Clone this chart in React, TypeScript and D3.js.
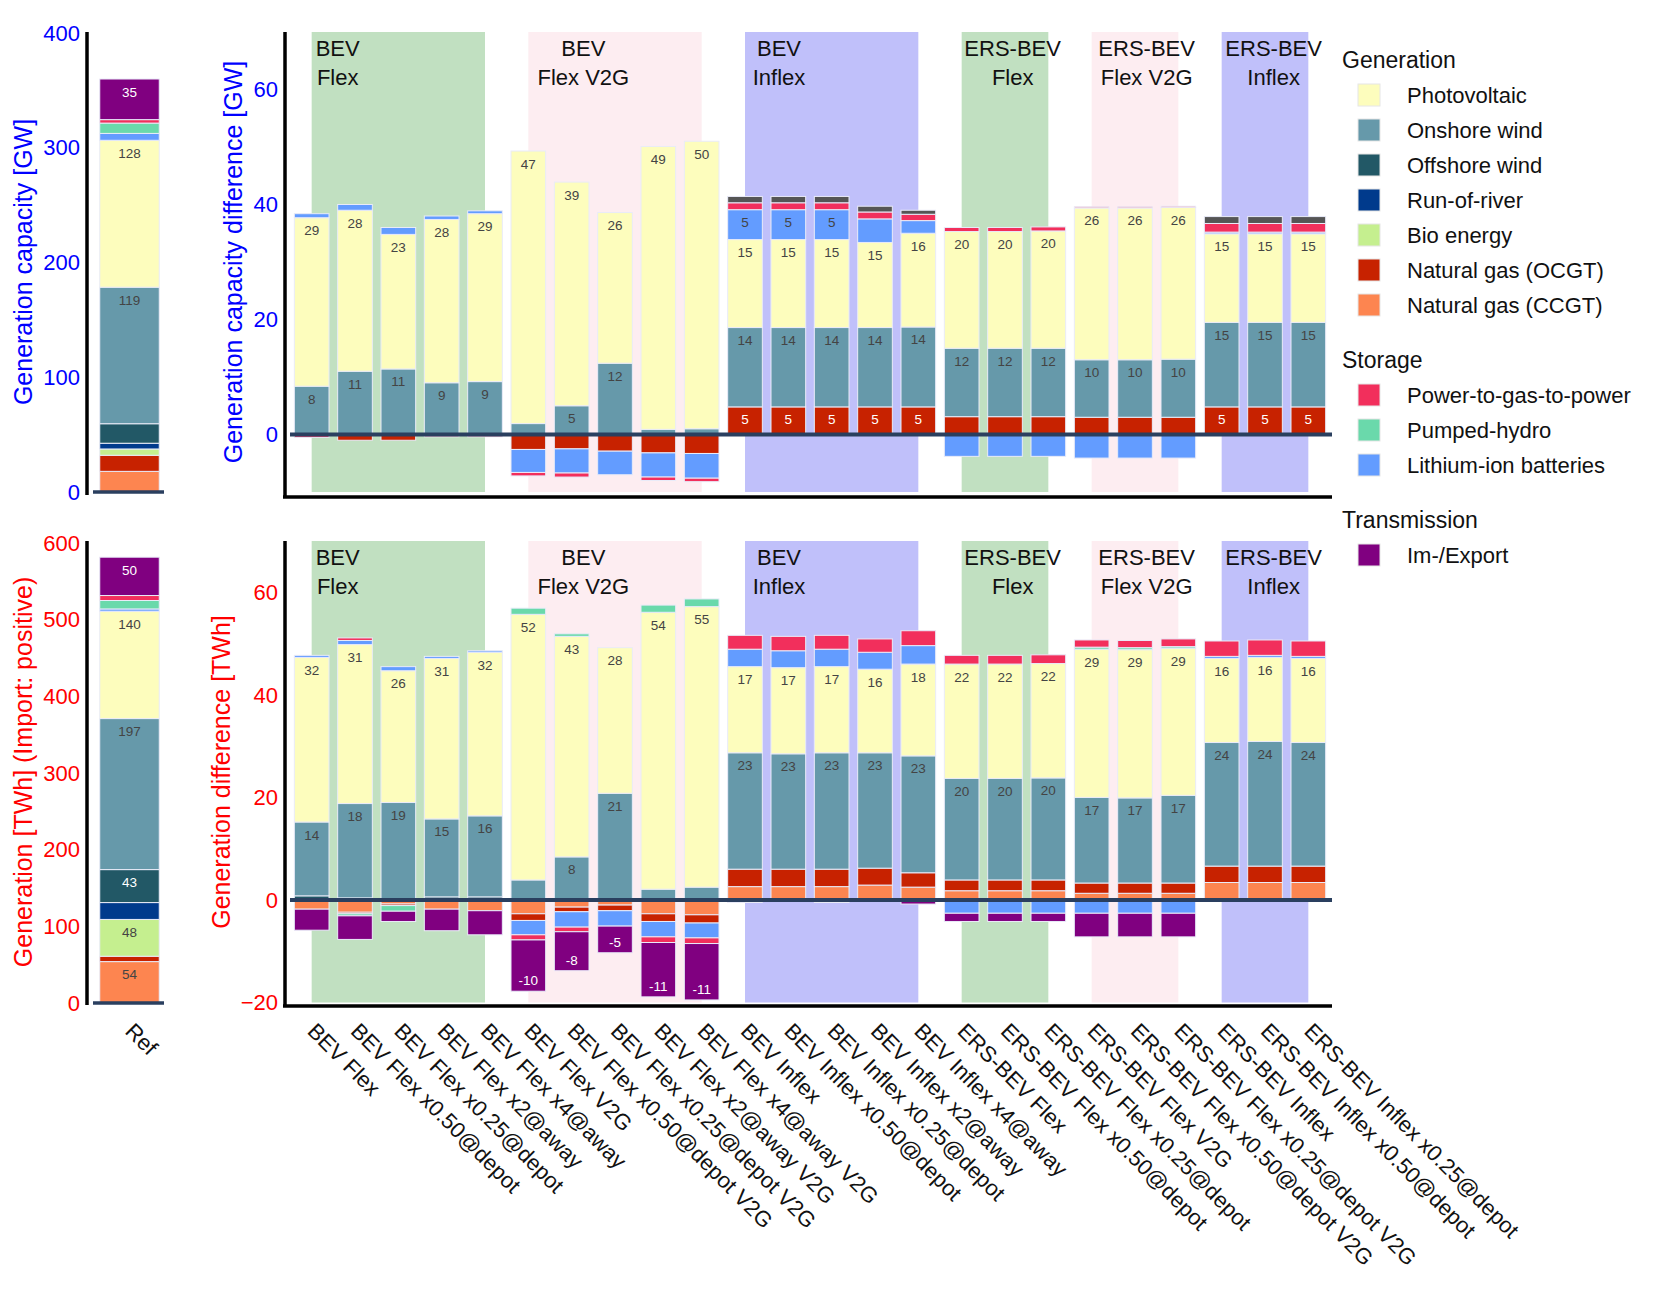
import React, { useEffect } from 'react';
import * as d3 from 'd3';

// ---- data ----
const scenarios = [
  'BEV Flex', 'BEV Flex x0.50@depot', 'BEV Flex x0.25@depot', 'BEV Flex x2@away', 'BEV Flex x4@away',
  'BEV Flex V2G', 'BEV Flex x0.50@depot V2G', 'BEV Flex x0.25@depot V2G', 'BEV Flex x2@away V2G', 'BEV Flex x4@away V2G',
  'BEV Inflex', 'BEV Inflex x0.50@depot', 'BEV Inflex x0.25@depot', 'BEV Inflex x2@away', 'BEV Inflex x4@away',
  'ERS-BEV Flex', 'ERS-BEV Flex x0.50@depot', 'ERS-BEV Flex x0.25@depot',
  'ERS-BEV Flex V2G', 'ERS-BEV Flex x0.50@depot V2G', 'ERS-BEV Flex x0.25@depot V2G',
  'ERS-BEV Inflex', 'ERS-BEV Inflex x0.50@depot', 'ERS-BEV Inflex x0.25@depot',
];

const techKeys = ['ccgt', 'ocgt', 'bio', 'ror', 'offshore', 'onshore', 'pv', 'li', 'phs', 'p2g', 'other', 'imex'];
const techColors: Record<string, string> = {
  ccgt: '#fd8550', ocgt: '#c72200', bio: '#c5ef8f', ror: '#003a8c', offshore: '#225866',
  onshore: '#6699aa', pv: '#fdfdbd', li: '#639cff', phs: '#6ad9ab', p2g: '#f22f5c',
  other: '#555555', imex: '#800080',
};
const whiteText = ['ocgt', 'ror', 'offshore', 'imex', 'other'];

// generation capacity difference [GW]
const z24 = new Array(24).fill(0);
const capCcgt = z24;
const capOcgt = [0, -1.0, -1.0, 0, 0, -2.6, -2.5, -2.9, -3.2, -3.3, 4.8, 4.8, 4.8, 4.8, 4.8, 3.1, 3.1, 3.1, 3.0, 3.0, 3.0, 4.8, 4.8, 4.8];
const capOnshore = [8.4, 11.0, 11.4, 9.0, 9.2, 1.9, 5.0, 12.4, 0.9, 1.0, 13.8, 13.8, 13.8, 13.8, 13.9, 11.9, 11.9, 11.9, 10.0, 10.0, 10.1, 14.7, 14.7, 14.7];
const capPv = [29.3, 28.0, 23.4, 28.4, 29.2, 47.4, 38.9, 26.2, 49.2, 50.0, 15.3, 15.3, 15.3, 14.8, 16.3, 20.3, 20.3, 20.4, 26.4, 26.4, 26.4, 15.4, 15.4, 15.4];
const capLi = [0.7, 1.0, 1.2, 0.6, 0.5, -4.0, -4.2, -4.1, -4.2, -4.3, 5.2, 5.2, 5.2, 4.1, 2.2, -3.8, -3.8, -3.8, -4.1, -4.1, -4.1, 0.3, 0.3, 0.3];
const capP2g = [-0.5, 0, 0, -0.4, -0.4, -0.6, -0.7, 0, -0.6, -0.6, 1.2, 1.2, 1.2, 1.2, 1.1, 0.7, 0.7, 0.7, 0.2, 0.2, 0.2, 1.5, 1.5, 1.5];
const capOther = [0, 0, 0, 0, 0, 0, 0, 0, 0, 0, 1.1, 1.1, 1.1, 1.0, 0.7, 0, 0, 0, 0, 0, 0, 1.2, 1.2, 1.2];

// generation difference [TWh]
const genCcgt = [-1.8, -2.4, -0.8, -1.8, -2.1, -2.7, -1.4, -1.0, -2.7, -2.9, 2.6, 2.6, 2.6, 2.9, 2.5, 1.8, 1.8, 1.8, 1.3, 1.3, 1.3, 3.4, 3.4, 3.4];
const genOcgt = [0, -0.3, -0.3, 0, 0, -1.3, -0.9, -1.1, -1.5, -1.6, 3.4, 3.4, 3.4, 3.3, 2.8, 2.1, 2.1, 2.1, 2.0, 2.0, 2.0, 3.2, 3.2, 3.2];
const genOffshore = [0.8, 0.4, 0, 0.6, 0.6, 0, 0, 0, 0, 0, 0, 0, 0, 0, 0, 0, 0, 0, 0, 0, 0, 0, 0, 0];
const genOnshore = [14.4, 18.4, 19.0, 15.2, 15.8, 3.9, 8.4, 20.8, 2.1, 2.5, 22.7, 22.5, 22.7, 22.5, 22.8, 19.8, 19.8, 19.9, 16.7, 16.6, 17.1, 24.1, 24.3, 24.1];
const genPv = [32.1, 31.0, 25.7, 31.3, 31.9, 51.8, 43.0, 28.4, 54.0, 54.7, 16.8, 16.8, 16.8, 16.3, 17.9, 22.3, 22.3, 22.3, 28.9, 28.9, 28.7, 16.4, 16.4, 16.4];
const genLi = [0.4, 0.8, 0.8, 0.4, 0.3, -2.8, -3.0, -3.0, -3.0, -2.9, 3.4, 3.3, 3.4, 3.3, 3.6, -2.6, -2.6, -2.6, -2.6, -2.6, -2.6, 0.4, 0.4, 0.4];
const genPhs = [0, -0.4, -1.1, 0, 0, 1.2, 0.5, 0, 1.4, 1.5, 0, 0, 0, 0, 0, 0, 0, 0, 0.4, 0.4, 0.3, 0, 0, 0];
const genP2g = [0, 0.5, 0, 0, 0, -1.0, -0.9, 0, -1.1, -1.1, 2.7, 2.8, 2.7, 2.6, 2.9, 1.7, 1.7, 1.7, 1.4, 1.4, 1.5, 3.0, 3.0, 3.0];
const genImex = [-4.1, -4.6, -2.0, -4.2, -4.7, -10.0, -7.6, -5.2, -10.6, -11.0, -0.5, -0.3, -0.5, 0, -0.8, -1.6, -1.6, -1.6, -4.6, -4.6, -4.6, 0, 0, 0];

// reference scenario
const refCap: Record<string, number> = { ccgt: 18, ocgt: 14, bio: 5.5, ror: 5, offshore: 17, onshore: 119, pv: 128, li: 6, phs: 9, p2g: 3, other: 0, imex: 35.4 };
const refGen: Record<string, number> = { ccgt: 54, ocgt: 7, bio: 48, ror: 22, offshore: 43, onshore: 197, pv: 140, li: 3, phs: 11, p2g: 6.5, other: 0, imex: 50 };

const capTicks = [0, 20, 40, 60];
const genTicks = [-20, 0, 20, 40, 60];
const refCapTicks = [0, 100, 200, 300, 400];
const refGenTicks = [0, 100, 200, 300, 400, 500, 600];

const groupNames = [['BEV', 'Flex'], ['BEV', 'Flex V2G'], ['BEV', 'Inflex'], ['ERS-BEV', 'Flex'], ['ERS-BEV', 'Flex V2G'], ['ERS-BEV', 'Inflex']];
const groupFirst = [0, 5, 10, 15, 18, 21];
const groupLast = [4, 9, 14, 17, 20, 23];
const groupKind = ['flex', 'v2g', 'inflex', 'flex', 'v2g', 'inflex'];
const groupFill: Record<string, string> = { flex: '#c1e0c1', v2g: '#fdedf1', inflex: '#c0c0fa' };
const groupLabelDx = [26, 55, 34, 51, 55, 52];

const legendGroups = [
  { title: 'Generation', items: [['pv', 'Photovoltaic'], ['onshore', 'Onshore wind'], ['offshore', 'Offshore wind'], ['ror', 'Run-of-river'], ['bio', 'Bio energy'], ['ocgt', 'Natural gas (OCGT)'], ['ccgt', 'Natural gas (CCGT)']] },
  { title: 'Storage', items: [['p2g', 'Power-to-gas-to-power'], ['phs', 'Pumped-hydro'], ['li', 'Lithium-ion batteries']] },
  { title: 'Transmission', items: [['imex', 'Im-/Export']] },
];

const FONT = '"Liberation Sans", Arial, Helvetica, sans-serif';
const BLUE = '#0000ff';
const RED = '#ff0000';
const ZERO = '#2a3f5f';

function buildRows(cols: Record<string, number[]>): any[] {
  return scenarios.map((s, i) => {
    const r: any = {};
    techKeys.forEach(k => { r[k] = cols[k] ? cols[k][i] : 0; });
    r.name = s;
    return r;
  });
}

const capRows = buildRows({ ccgt: capCcgt, ocgt: capOcgt, onshore: capOnshore, pv: capPv, li: capLi, p2g: capP2g, other: capOther });
const genRows = buildRows({ ccgt: genCcgt, ocgt: genOcgt, offshore: genOffshore, onshore: genOnshore, pv: genPv, li: genLi, phs: genPhs, p2g: genP2g, imex: genImex });

const stackGen = d3.stack<any>().keys(techKeys).offset(d3.stackOffsetDiverging);

function Bars({ rows, x, y }: { rows: any[]; x: d3.ScaleBand<string>; y: d3.ScaleLinear<number, number> }) {
  const series = stackGen(rows);
  const bw = x.bandwidth();
  const rects: JSX.Element[] = [];
  const labels: JSX.Element[] = [];
  series.forEach(s => {
    s.forEach((d, i) => {
      const v = d.data[s.key] as number;
      if (!v) return;
      const top = y(d[1]);
      const bot = y(d[0]);
      const bx = x(d.data.name) as number;
      rects.push(
        <rect key={s.key + i} x={bx} y={top} width={bw} height={Math.max(bot - top, 0.5)}
          fill={techColors[s.key]} stroke="#e9ebf8" strokeWidth={1} />
      );
      if (bot - top >= 25) {
        const ty = v > 0 ? top + 17.5 : bot - 6;
        labels.push(
          <text key={'t' + s.key + i} x={bx + bw / 2} y={ty} textAnchor="middle" fontSize={13.5}
            fill={whiteText.includes(s.key) ? '#ffffff' : '#444444'}>
            {Math.round(v)}
          </text>
        );
      }
    });
  });
  return <g>{rects}{labels}</g>;
}

function YAxis({ y, ticks, xAxis, right, color, top, bottom }: any) {
  return (
    <g>
      <line x1={xAxis} x2={xAxis} y1={top} y2={bottom} stroke="#000" strokeWidth={3.5} />
      {ticks.map((t: number) => (
        <text key={t} x={right} y={y(t)} dy="0.35em" textAnchor="end" fontSize={22} fill={color}>
          {t < 0 ? '\u2212' + Math.abs(t) : t}
        </text>
      ))}
    </g>
  );
}

function Groups({ x, y, yTop, yBot, top }: any) {
  const half = x.bandwidth() / 2;
  return (
    <g>
      {groupNames.map((g, i) => {
        const x0 = (x(scenarios[groupFirst[i]]) as number) + half;
        const x1 = (x(scenarios[groupLast[i]]) as number) + half;
        return (
          <rect key={i} x={x0} y={y(yTop)} width={x1 - x0} height={y(yBot) - y(yTop)} fill={groupFill[groupKind[i]]} />
        );
      })}
      {groupNames.map((g, i) => {
        const cx = (x(scenarios[groupFirst[i]]) as number) + half + groupLabelDx[i];
        return (
          <text key={'l' + i} textAnchor="middle" fontSize={22} fill="#111">
            <tspan x={cx} y={top + 23.5}>{g[0]}</tspan>
            <tspan x={cx} y={top + 52.5}>{g[1]}</tspan>
          </text>
        );
      })}
    </g>
  );
}

export default function App() {
  useEffect(() => {
    document.body.style.margin = '0';
  }, []);

  const W = 1661;
  const H = 1292;

  const x = d3.scaleBand<string>().domain(scenarios).range([290, 1330]).paddingInner(0.2).paddingOuter(0.1);
  const xRef = d3.scaleBand<string>().domain(['Ref']).range([87, 172]).paddingInner(0.3).paddingOuter(0.15);

  const capY = d3.scaleLinear().domain([-10, 70]).range([492, 32]);
  const genY = d3.scaleLinear().domain([-20, 70]).range([1002.5, 541]);
  const refCapY = d3.scaleLinear().domain([0, 400]).range([492, 33]);
  const refGenY = d3.scaleLinear().domain([0, 600]).range([1003, 543]);

  const refCapRow = [{ ...refCap, name: 'Ref' }];
  const refGenRow = [{ ...refGen, name: 'Ref' }];

  let ly = 60;
  const legendEls: JSX.Element[] = [];
  legendGroups.forEach((grp, gi) => {
    legendEls.push(
      <text key={'g' + gi} x={1342} y={ly} dy="0.35em" fontSize={23} fill="#111">{grp.title}</text>
    );
    ly += 35;
    grp.items.forEach(([k, label]) => {
      legendEls.push(
        <g key={k}>
          <rect x={1358} y={ly - 11} width={22} height={22} fill={techColors[k]} stroke="#e6e6e6" strokeWidth={1} />
          <text x={1407} y={ly} dy="0.35em" fontSize={22} fill="#111">{label}</text>
        </g>
      );
      ly += 35;
    });
    ly += 20;
  });

  return (
    <svg width={W} height={H} style={{ display: 'block', background: '#fff' }} fontFamily={FONT}>
      {/* reference: capacity */}
      <Bars rows={refCapRow} x={xRef} y={refCapY} />
      <line x1={93} x2={164} y1={refCapY(0)} y2={refCapY(0)} stroke={ZERO} strokeWidth={3.5} />
      <YAxis y={refCapY} ticks={refCapTicks} xAxis={87} right={80} color={BLUE} top={32} bottom={495} />
      <text transform="translate(23,262) rotate(-90)" dy="0.35em" textAnchor="middle" fontSize={25} fill={BLUE}>
        Generation capacity [GW]
      </text>

      {/* reference: generation */}
      <Bars rows={refGenRow} x={xRef} y={refGenY} />
      <line x1={93} x2={164} y1={refGenY(0)} y2={refGenY(0)} stroke={ZERO} strokeWidth={3.5} />
      <YAxis y={refGenY} ticks={refGenTicks} xAxis={87} right={80} color={RED} top={541} bottom={1005} />
      <text transform="translate(23,772) rotate(-90)" dy="0.35em" textAnchor="middle" fontSize={25} fill={RED}>
        Generation [TWh] (Import: positive)
      </text>
      <text transform={`translate(${(xRef('Ref') as number) + xRef.bandwidth() / 2},1027) rotate(45)`} dy="0.35em" fontSize={22} fill="#111">
        Ref
      </text>

      {/* main: capacity difference */}
      <Groups x={x} y={capY} yTop={70} yBot={-10} top={32} />
      <Bars rows={capRows} x={x} y={capY} />
      <line x1={290} x2={1332} y1={capY(0)} y2={capY(0)} stroke={ZERO} strokeWidth={4} />
      <YAxis y={capY} ticks={capTicks} xAxis={285} right={278} color={BLUE} top={32} bottom={497} />
      <line x1={283} x2={1332} y1={497} y2={497} stroke="#000" strokeWidth={3.5} />
      <text transform="translate(233,262) rotate(-90)" dy="0.35em" textAnchor="middle" fontSize={25} fill={BLUE}>
        Generation capacity difference [GW]
      </text>

      {/* main: generation difference */}
      <Groups x={x} y={genY} yTop={70} yBot={-20} top={541} />
      <Bars rows={genRows} x={x} y={genY} />
      <line x1={290} x2={1332} y1={genY(0)} y2={genY(0)} stroke={ZERO} strokeWidth={4} />
      <YAxis y={genY} ticks={genTicks} xAxis={285} right={278} color={RED} top={541} bottom={1006} />
      <line x1={283} x2={1332} y1={1006} y2={1006} stroke="#000" strokeWidth={3.5} />
      <text transform="translate(221,772) rotate(-90)" dy="0.35em" textAnchor="middle" fontSize={25} fill={RED}>
        Generation difference [TWh]
      </text>

      {scenarios.map(s => (
        <text key={s} transform={`translate(${(x(s) as number) + x.bandwidth() / 2},1027) rotate(45)`} dy="0.35em" fontSize={22} fill="#111">
          {s}
        </text>
      ))}

      {legendEls}
    </svg>
  );
}
